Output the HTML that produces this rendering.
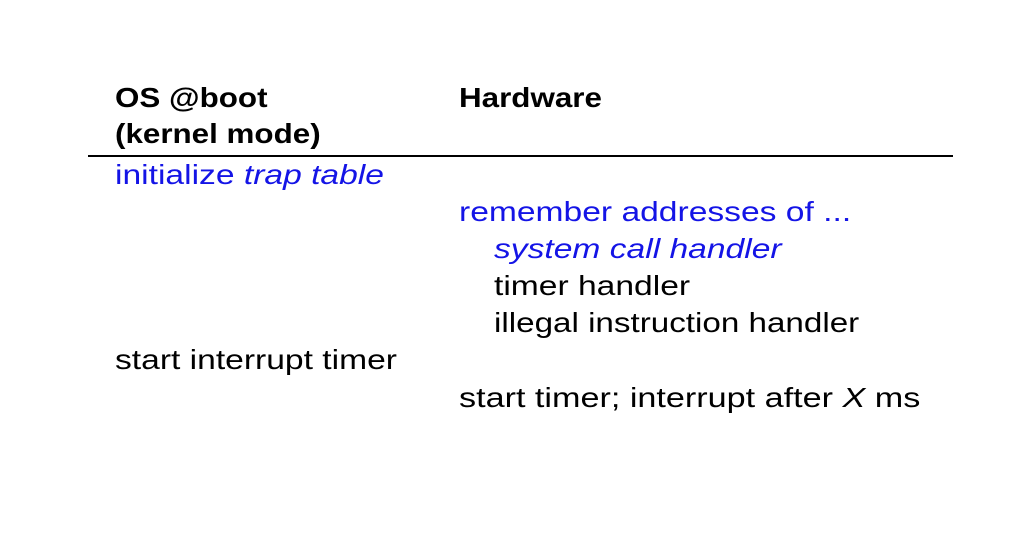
<!DOCTYPE html>
<html><head><meta charset="utf-8"><style>
html,body{margin:0;padding:0;background:#fff;}
body{width:1030px;height:552px;position:relative;overflow:hidden;font-family:"Liberation Sans",sans-serif;font-size:28px;line-height:30px;color:#000;}
.t{position:absolute;white-space:nowrap;transform:scaleX(1.2);transform-origin:0 0;}
.b{font-weight:bold;transform:scaleX(1.12);}
.bl{color:#1414e6;}
i{font-style:italic;}
.hr{position:absolute;left:88px;top:155px;width:865px;height:2px;background:#000;}
</style></head><body>
<div class="t b" style="left:115px;top:83px;">OS @boot</div>
<div class="t b" style="left:115px;top:119px;">(kernel mode)</div>
<div class="t b" style="left:459px;top:83px;">Hardware</div>
<div class="hr"></div>
<div class="t bl" style="left:115px;top:160px;">initialize <i>trap table</i></div>
<div class="t bl" style="left:459px;top:197px;">remember addresses of ...</div>
<div class="t bl" style="left:494px;top:234px;"><i>system call handler</i></div>
<div class="t" style="left:494px;top:271px;">timer handler</div>
<div class="t" style="left:494px;top:308px;transform:scaleX(1.185);">illegal instruction handler</div>
<div class="t" style="left:115px;top:345px;">start interrupt timer</div>
<div class="t" style="left:459px;top:383px;transform:scaleX(1.22);">start timer; interrupt after <i>X</i> ms</div>
</body></html>
